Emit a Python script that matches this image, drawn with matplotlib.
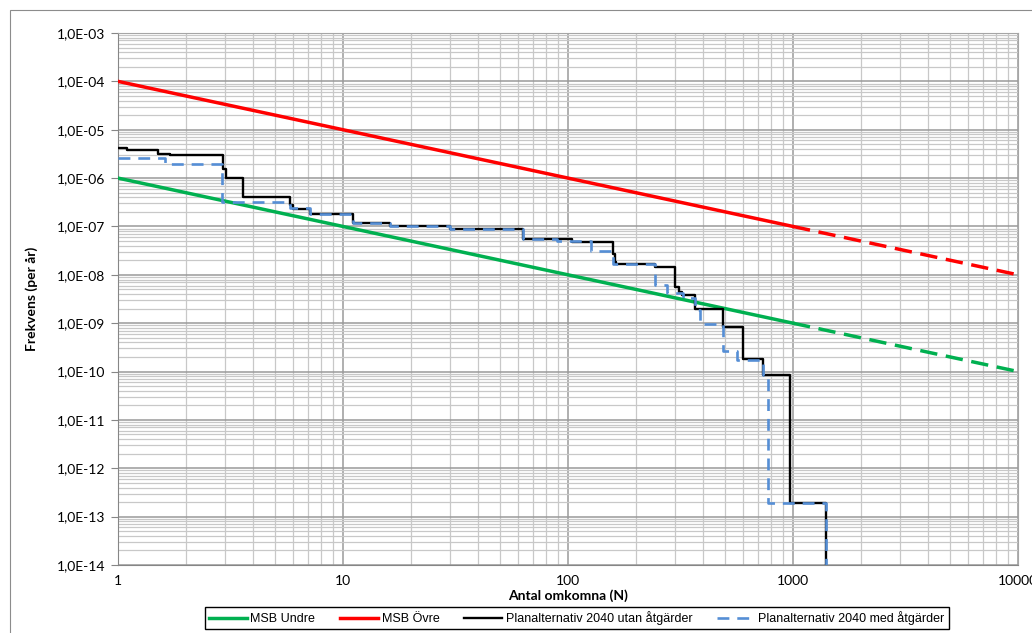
import numpy as np
import matplotlib.pyplot as plt
from matplotlib.ticker import FixedLocator, FuncFormatter, NullFormatter
from matplotlib.patches import Rectangle

# MSB criteria lines (solid up to N=1000, dashed beyond)
msb_n = [1, 1000]
msb_n_ext = [1000, 10000]
msb_undre = [1e-6, 1e-9]
msb_undre_ext = [1e-9, 1e-10]
msb_ovre = [1e-4, 1e-7]
msb_ovre_ext = [1e-7, 1e-8]

# F/N curve, Planalternativ 2040 utan atgarder (step curve, value holds from N[i] to N[i+1])
utan_n = [1, 1.1, 1.5, 1.7, 2.93, 3.02, 3.6, 5.8, 6.0, 7.1, 11.1, 16.2, 30, 63, 104,
          158, 161, 163, 244, 299, 313, 320, 366, 487, 600, 736, 970, 1400]
utan_f = [4.2e-6, 3.8e-6, 3.2e-6, 3.0e-6, 1.55e-6, 1.0e-6, 4.1e-7, 2.8e-7, 2.35e-7, 1.85e-7,
          1.16e-7, 1.02e-7, 8.7e-8, 5.6e-8, 4.7e-8, 2.7e-8, 1.85e-8, 1.65e-8, 1.45e-8, 5.6e-9,
          4.4e-9, 3.9e-9, 2.0e-9, 8.3e-10, 1.85e-10, 8.3e-11, 1.92e-13, 1e-15]

# F/N curve, Planalternativ 2040 med atgarder
med_n = [1, 1.62, 2.89, 5.8, 7.1, 11.1, 16.2, 30, 63, 89, 127, 158, 244, 275, 323, 366,
         386, 487, 562, 736, 774, 1400]
med_f = [2.6e-6, 1.95e-6, 3.2e-7, 2.45e-7, 1.85e-7, 1.16e-7, 1.02e-7, 8.7e-8, 5.6e-8, 4.9e-8,
         3.1e-8, 1.7e-8, 6.2e-9, 4.3e-9, 3.3e-9, 1.9e-9, 9.5e-10, 2.6e-10, 1.75e-10, 8.3e-11,
         1.92e-13, 1e-15]

x_ticks = [1, 10, 100, 1000, 10000]
y_ticks = [10.0**k for k in range(-14, -2)]

green = "#00b050"
red = "#ff0000"
blue = "#558ed5"

plt.rcParams['font.family'] = ['Lato', 'DejaVu Sans']

fig = plt.figure(figsize=(10.32, 6.33), dpi=100)
ax = fig.add_axes([118/1032, 1 - 565/633, 900/1032, 532/633])

ax.plot(msb_n, msb_undre, color=green, lw=2.5, label="MSB Undre", zorder=3)
ax.plot(msb_n_ext, msb_undre_ext, color=green, lw=2.5, dashes=(5, 2.5), zorder=3)
ax.plot(msb_n, msb_ovre, color=red, lw=2.5, label="MSB Övre", zorder=3)
ax.plot(msb_n_ext, msb_ovre_ext, color=red, lw=2.5, dashes=(5, 2.5), zorder=3)
ax.step(utan_n, utan_f, where='post', color="black", lw=1.7,
        label="Planalternativ 2040 utan åtgärder", zorder=4)
ax.step(med_n, med_f, where='post', color=blue, lw=1.9, dashes=(4.5, 3),
        label="Planalternativ 2040 med åtgärder", zorder=5)

ax.set_xscale('log')
ax.set_yscale('log')
ax.set_xlim(1, 10000)
ax.set_ylim(1e-14, 1e-3)

ax.xaxis.set_major_locator(FixedLocator(x_ticks))
ax.xaxis.set_major_formatter(FuncFormatter(lambda v, p: "%d" % round(v)))
ax.yaxis.set_major_locator(FixedLocator(y_ticks))
ax.yaxis.set_major_formatter(FuncFormatter(lambda v, p: "1,0E-%02d" % round(-np.log10(v))))
minor_x = [m * 10.0**k for k in range(0, 4) for m in range(2, 10)]
minor_y = [m * 10.0**k for k in range(-14, -3) for m in range(2, 10)]
ax.xaxis.set_minor_locator(FixedLocator(minor_x))
ax.yaxis.set_minor_locator(FixedLocator(minor_y))
ax.xaxis.set_minor_formatter(NullFormatter())
ax.yaxis.set_minor_formatter(NullFormatter())

ax.grid(True, which='major', color='#9a9a9a', lw=1.1)
ax.grid(True, which='minor', color='#c8c8c8', lw=0.9)
ax.set_axisbelow(True)
ax.tick_params(which='major', length=5, color='#868686', labelsize=10, pad=4)
ax.tick_params(which='minor', length=0)
ax.tick_params(axis='x', length=0, pad=7)
for s in ax.spines.values():
    s.set_color('#a6a6a6')
ax.spines['left'].set_color('#868686')
ax.spines['bottom'].set_color('#868686')

ax.set_xlabel("Antal omkomna (N)", fontweight='bold', fontsize=10, labelpad=2)
ax.set_ylabel("Frekvens (per år)", fontweight='bold', fontsize=10, labelpad=14)

leg = fig.legend(loc='center', bbox_to_anchor=(577/1032, 1 - 618/633), ncol=4,
                 frameon=True, fancybox=False, edgecolor='black', framealpha=1,
                 prop={'family': ['Liberation Sans Narrow', 'Liberation Sans'], 'size': 9},
                 handlelength=3.0, handletextpad=0.3, columnspacing=2.0,
                 borderpad=0.35)
leg.get_frame().set_linewidth(1.0)

fig.add_artist(Rectangle((10/1032, -0.05), 1.1, 1 - 10/633 + 0.05, transform=fig.transFigure,
                         fill=False, edgecolor='#8c8c8c', lw=0.8))

fig.savefig("out.png", dpi=100)
plt.close()
